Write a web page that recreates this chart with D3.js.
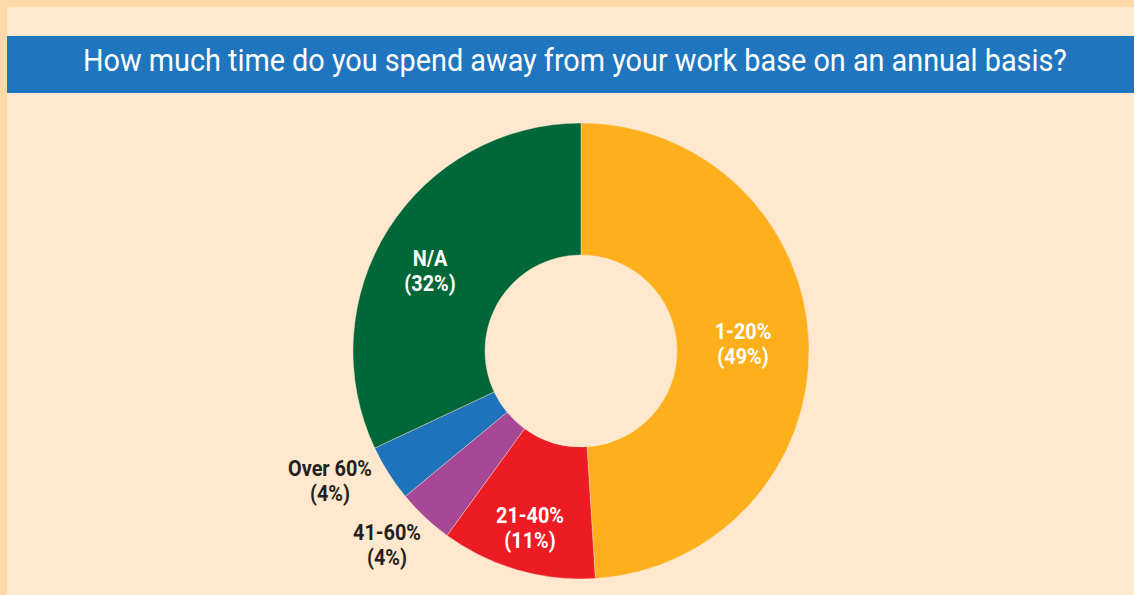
<!DOCTYPE html>
<html>
<head>
<meta charset="utf-8">
<script src="https://cdn.jsdelivr.net/npm/d3@7"></script>
<style>
  html, body { margin: 0; padding: 0; background: #FFD9A8; }
  svg { display: block; }
</style>
</head>
<body>
<svg id="chart" width="1134" height="595"></svg>
<script>
// Survey answers, clockwise from 12 o'clock
const categories = ["1-20%", "21-40%", "41-60%", "Over 60%", "N/A"];
const shares = [49, 11, 4, 4, 32];
const colors = ["#FDB01B", "#ED1C24", "#A74896", "#1F73BA", "#006838"];
const title = "How much time do you spend away from your work base on an annual basis?";

const svg = d3.select("#chart");
const W = 1134, H = 595;

// Narrow a text element horizontally so it spans the given width (condensed look)
function condense(sel, width) {
  const w = sel.node().getComputedTextLength();
  return w > 0 ? width / w : 1;
}

// Frame and panel
svg.append("rect").attr("width", W).attr("height", H).attr("fill", "#FFD9A8");
svg.append("rect").attr("x", 7).attr("y", 7).attr("width", W - 7).attr("height", H - 7).attr("fill", "#FFE8CE");

// Title bar
svg.append("rect").attr("x", 7).attr("y", 36).attr("width", W - 7).attr("height", 57).attr("fill", "#1F75BE");
const tt = svg.append("text")
  .attr("text-anchor", "middle")
  .attr("fill", "#ffffff")
  .style("font-family", "Roboto, 'Liberation Sans', sans-serif")
  .style("font-weight", 400)
  .style("font-size", "32px")
  .text(title);
const ts = condense(tt, 984);
tt.attr("transform", `translate(575,71) scale(${ts},1)`);

// Donut
const cx = 581, cy = 351, rOuter = 228, rInner = 96;
const pie = d3.pie().sort(null).value(d => d.value);
const arcs = pie(categories.map((c, i) => ({ name: c, value: shares[i], color: colors[i] })));
const arc = d3.arc().innerRadius(rInner).outerRadius(rOuter);

const g = svg.append("g").attr("transform", `translate(${cx},${cy})`);
g.selectAll("path").data(arcs).join("path")
  .attr("d", arc)
  .attr("fill", d => d.data.color)
  .attr("stroke", "#FFE8CE")
  .attr("stroke-width", 0.4);

// Label anchors (first baseline, relative to the donut centre)
const labelPos = {
  "1-20%":    { x: 162,  y: -12, inside: true },
  "21-40%":   { x: -51,  y: 172, inside: true },
  "41-60%":   { x: -194, y: 189, inside: false },
  "Over 60%": { x: -251, y: 125, inside: false },
  "N/A":      { x: -151, y: -85, inside: true }
};

// Common horizontal squeeze for the label face, taken from the widest label
const labelFont = "Roboto, 'Liberation Sans', sans-serif";
const probe = g.append("text")
  .style("font-family", labelFont)
  .style("font-weight", 700).style("font-size", "22px")
  .text("Over 60%");
const ls = condense(probe, 84);
probe.remove();

arcs.forEach(d => {
  const p = labelPos[d.data.name];
  const t = g.append("text")
    .attr("text-anchor", "middle")
    .attr("fill", p.inside ? "#ffffff" : "#231F20")
    .style("font-family", labelFont)
    .style("font-weight", 700)
    .style("font-size", "22px")
    .attr("transform", `translate(${p.x},${p.y}) scale(${ls},1)`);
  t.append("tspan").attr("x", 0).attr("y", 0).text(d.data.name);
  t.append("tspan").attr("x", 0).attr("y", 25).text(`(${d.data.value}%)`);
});
</script>
</body>
</html>
